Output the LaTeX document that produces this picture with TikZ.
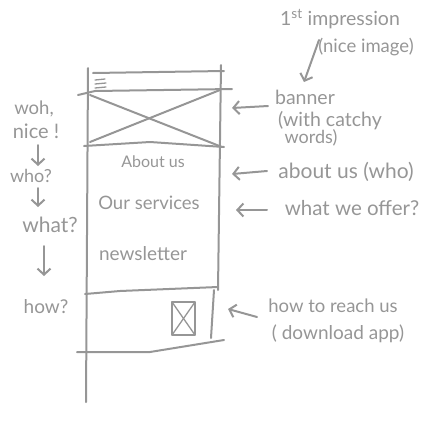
\documentclass[tikz,border=0pt]{standalone}
\usepackage{fontspec}
\setmainfont{Lato}
\usetikzlibrary{arrows.meta}
\definecolor{pen}{RGB}{150,150,150}
\newcommand{\fs}[1]{\fontsize{#1}{#1}\selectfont}
\tikzset{
  sk/.style={draw=pen, line width=2pt, line cap=round, line join=round},
  thin sk/.style={draw=pen, line width=1.3pt, line cap=round, line join=round},
  arr/.style={sk, -{Straight Barb[length=6pt,width=13pt,line width=2pt]}},
  lbl/.style={text=pen, inner sep=0pt, font=\fs{19}},
}
\begin{document}
\begin{tikzpicture}[x=1pt,y=-1pt]
\useasboundingbox (0,0) rectangle (432,437);
% wireframe frame
\draw[sk] (88,68) -- (86,402);
\draw[sk] (221,65) -- (218,290);
\draw[sk] (214,290) -- (211,338);
\draw[sk] (93,73) -- (224,71);
\draw[sk] (78,95) -- (95,91) -- (232,89);
\draw[sk] (90,95) -- (222,147);
\draw[sk] (90,142) -- (220,90);
\draw[sk] (84,146) -- (150,142) -- (224,147);
\draw[sk] (85,294) -- (120,291) -- (218,287);
\draw[sk] (77,352) -- (150,352) -- (224,340);
% hamburger
\draw[thin sk] (95,80) -- (105,79);
\draw[thin sk] (95,84) -- (106,83);
\draw[thin sk] (95,88) -- (106,87);
% small image box
\draw[sk] (172,302) rectangle (195,335);
\draw[thin sk] (172,302) -- (195,335);
\draw[thin sk] (172,335) -- (195,302);
% texts inside wireframe
\node[lbl, font=\fs{16}] (about) at (153,162) {About us};
\node[lbl, font=\fs{18.5}] (serv) at (149,203) {Our services};
\node[lbl, font=\fs{19}] (news) at (143,254) {newsletter};
% left labels
\node[lbl, font=\fs{18.5}] (woh) at (34,109) {woh,};
\node[lbl, font=\fs{20}] (nice) at (36,131) {nice !};
\node[lbl, font=\fs{18}] (who) at (31,176) {who?};
\node[lbl, font=\fs{21}] (what) at (50,225) {what?};
\node[lbl, font=\fs{19}] (how) at (46,307) {how?};
\coordinate (d1a) at (38,145); \coordinate (d1b) at (38,166);
\coordinate (d2a) at (38,188); \coordinate (d2b) at (38,207);
\coordinate (d3a) at (44,246); \coordinate (d3b) at (44,276);
\draw[arr] (d1a) -- (d1b);
\draw[arr] (d2a) -- (d2b);
\draw[arr] (d3a) -- (d3b);
% right labels
\node[lbl, font=\fs{19.5}] (imp) at (340,19) {1\textsuperscript{st} impression};
\node[lbl, font=\fs{18.5}] (niceimg) at (366,47) {(nice image)};
\node[lbl, font=\fs{19.5}] (banner) at (305,97) {banner};
\node[lbl, font=\fs{19.5}] (catchy) at (330,121) {(with catchy};
\node[lbl, font=\fs{18}] (words) at (311,138) {words)};
\node[lbl, font=\fs{21}] (aboutwho) at (346,172) {about us (who)};
\node[lbl, font=\fs{20.5}] (offer) at (352,208) {what we offer?};
\node[lbl, font=\fs{18.5}] (reach) at (333,306) {how to reach us};
\node[lbl, font=\fs{19}] (app) at (338,334) {( download app)};
% arrows to the wireframe
\coordinate (impA) at (319,40);
\coordinate (impB) at (304,82);
\draw[arr] (impA) -- (impB);
\coordinate (banA) at (268,106);
\coordinate (banB) at (232,108);
\draw[arr] (banA) -- (banB);
\coordinate (abA) at (267,171);
\coordinate (abB) at (232,174);
\draw[arr] (abA) -- (abB);
\coordinate (ofA) at (267,210);
\coordinate (ofB) at (236,210);
\draw[arr] (ofA) -- (ofB);
\coordinate (reA) at (257,317);
\coordinate (reB) at (228,309);
\draw[arr] (reA) -- (reB);
\end{tikzpicture}
\end{document}
